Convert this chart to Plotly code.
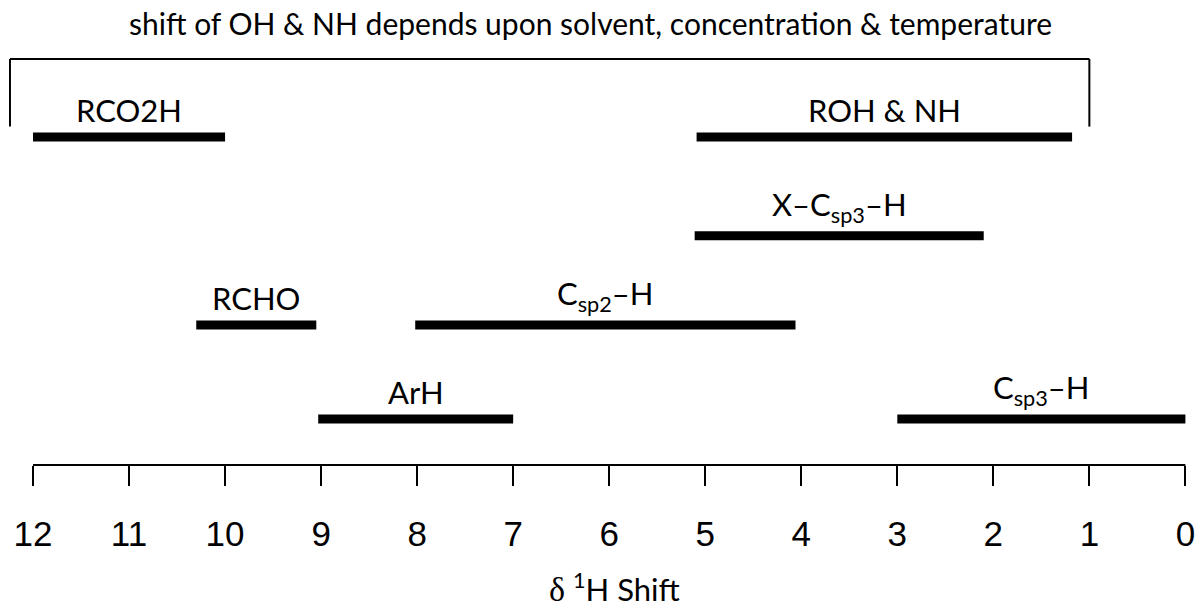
import plotly.graph_objects as go

# ---- data ----
groups = ["RCO2H", "ROH & NH", "X–C<sub>sp3</sub>–H", "RCHO", "C<sub>sp2</sub>–H", "ArH", "C<sub>sp3</sub>–H"]
ppm_start = [12.0, 5.09, 5.11, 10.3, 8.02, 9.03, 3.0]
ppm_end = [10.0, 1.18, 2.1, 9.05, 4.06, 7.0, 0.0]
rows = [4, 4, 2.95, 2, 2, 1, 1]
tick_vals = list(range(12, -1, -1))
tick_text = [str(v) for v in tick_vals]
bracket_ppm = [12.24, 1.0]
note = "shift of OH &amp; NH depends upon solvent, concentration &amp; temperature"
axis_title = "<span style='font-family:Liberation Serif;font-size:34px'>δ</span> <sup>1</sup>H Shift"

LABEL_FONT = "Lato, Open Sans, sans-serif"

fig = go.Figure()
for g, s, e, r in zip(groups, ppm_start, ppm_end, rows):
    fig.add_trace(go.Scatter(x=[s, e], y=[r, r], mode="lines",
                             line=dict(color="black", width=9),
                             hoverinfo="skip", showlegend=False))
    fig.add_annotation(x=(s + e) / 2, y=r, xref="x", yref="y",
                       text=g.replace("&", "&amp;") if "<" not in g else g,
                       showarrow=False, yanchor="bottom", yshift=6,
                       font=dict(family=LABEL_FONT, size=31, color="black"))

# bracket
top, bot = 4.83, 4.11
fig.add_shape(type="line", xref="x", yref="y", x0=bracket_ppm[0], x1=bracket_ppm[1], y0=top, y1=top,
              line=dict(color="black", width=2))
fig.add_shape(type="line", xref="x", yref="y", x0=bracket_ppm[0], x1=bracket_ppm[0], y0=top, y1=bot,
              line=dict(color="black", width=2))
fig.add_shape(type="line", xref="x", yref="y", x0=bracket_ppm[1], x1=bracket_ppm[1], y0=top, y1=bot,
              line=dict(color="black", width=2))

# axis baseline from 12 to 0
fig.add_shape(type="line", xref="x", yref="paper", x0=tick_vals[0], x1=tick_vals[-1], y0=0, y1=0,
              line=dict(color="black", width=2))

fig.add_annotation(x=0.49, y=1.0, xref="paper", yref="paper", yanchor="top", yshift=-3,
                   text=note, showarrow=False,
                   font=dict(family=LABEL_FONT, size=30, color="black"))
fig.add_annotation(x=5.95, y=-0.2645, xref="x", yref="paper", yanchor="middle",
                   text=axis_title, showarrow=False,
                   font=dict(family=LABEL_FONT, size=31, color="black"))

fig.update_layout(
    width=1196, height=611,
    margin=dict(l=9, r=1, t=0, b=146),
    paper_bgcolor="white", plot_bgcolor="white",
    xaxis=dict(range=[12.25, -0.1], showgrid=False, zeroline=False, showline=False,
               tickmode="array", tickvals=tick_vals, ticktext=tick_text,
               ticks="outside", ticklen=20, tickwidth=2, tickcolor="black",
               tickfont=dict(family="Liberation Sans, Arial, sans-serif", size=35, color="black"),
               ticklabelstandoff=18, fixedrange=True),
    yaxis=dict(range=[0.51, 5.457], visible=False, fixedrange=True),
)

fig.write_html("out.html", post_script="document.body.style.margin='0';",
               config={"displayModeBar": False})
